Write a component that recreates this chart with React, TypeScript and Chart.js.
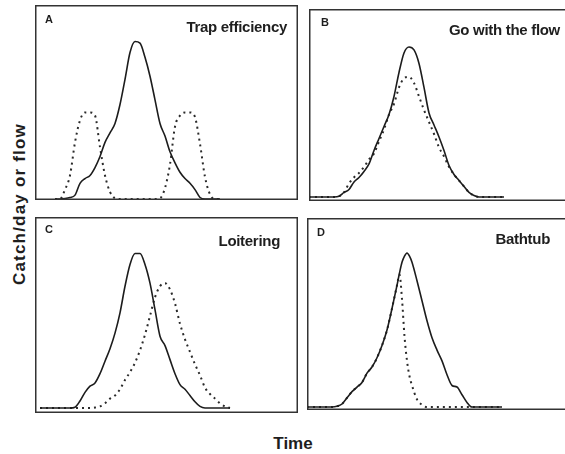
import React, { useEffect, useRef } from "react";
import { Chart, registerables } from "chart.js";

Chart.register(...registerables);

// ---- Data (time in arbitrary days, catch/flow scaled so the solid peak = 100) ----
const timeA = [4, 5, 6, 7, 8, 9, 10, 11, 12, 13, 14, 15, 16, 17, 18, 19, 20, 21, 22, 23, 24, 25, 26, 27, 28, 29, 30, 31, 32, 33, 34, 35, 36, 37];
const flowA = [0, 0, 0.3, 1, 2.5, 10, 13, 15, 20, 27, 36, 42, 48, 60, 76, 93, 100, 99, 90, 78, 63, 48, 40, 30, 23, 17, 13, 10, 6, 1, 0, 0, 0, 0];
const catchA = [0, 0, 6, 15, 36, 50, 55, 55, 53, 33, 15, 4.5, 0.5, 0, 0, 0, 0, 0, 0, 0, 0, 0.5, 7, 22, 46, 53, 55, 55, 52, 35, 14, 3, 0, 0];

const timeB = [0, 1, 2, 3, 4, 5, 6, 7, 8, 9, 10, 11, 12, 13, 14, 15, 16, 17, 18, 19, 20, 21, 22, 23, 24, 25, 26, 27, 28, 29, 30, 31, 32, 33, 34, 35, 36, 37, 38, 39];
const flowB = [0, 0, 0, 0, 0, 0, 0.5, 3, 5, 10, 13, 17, 22, 31, 39, 47, 55, 67, 83, 96, 100, 98, 89, 73, 56, 48, 40, 31, 21, 15, 11, 7, 3, 1, 0, 0, 0, 0, 0, 0];
const catchB = [0, 0, 0, 0, 0, 0, 0.5, 3, 9, 13, 16, 20, 25, 29, 37, 45, 55, 62, 73, 79, 80, 76, 67, 58, 50, 42, 33, 27, 20, 15, 11, 7, 3, 1, 0, 0, 0, 0, 0, 0];

const timeC = [1, 2, 3, 4, 5, 6, 7, 8, 9, 10, 11, 12, 13, 14, 15, 16, 17, 18, 19, 20, 21, 22, 23, 24, 25, 26, 27, 28, 29, 30, 31, 32, 33, 34, 35, 36, 37, 38, 39];
const flowC = [0, 0, 0, 0, 0, 0, 0, 0.5, 4.5, 10, 14, 16, 22, 30, 38, 48, 61, 78, 92, 99, 99, 92, 80, 63, 46, 40, 31, 22, 15, 12, 8, 4, 1, 0, 0, 0, 0, 0, 0];
const catchC = [0, 0, 0, 0, 0, 0, 0, 0, 0, 0, 0, 0.3, 1, 3, 6, 8, 12, 18, 23, 29, 37, 47, 59, 71, 78, 80, 76, 67, 54, 44, 36, 28, 21, 13, 9, 6, 3, 1, 0];

const timeD = [0, 1, 2, 3, 4, 5, 6, 7, 8, 9, 10, 11, 12, 13, 14, 15, 16, 17, 18, 18.5, 19, 19.5, 20, 20.5, 21, 22, 23, 24, 25, 26, 27, 28, 29, 30, 31, 32, 33, 34, 35, 36, 37, 38, 39];
const flowD = [0, 0, 0, 0, 0, 0, 0.5, 2, 6, 10, 13, 16, 22, 26, 32, 40, 50, 64, 79, 87, 94, 98, 100, 98, 94, 82, 69, 56, 45, 37, 30, 21, 14, 13, 8, 3, 0, 0, 0, 0, 0, 0, 0];
const catchD = [0, 0, 0, 0, 0, 0, 0.5, 2, 6, 10, 13, 16, 22, 26, 32, 40, 50, 64, 79, 86, 70, 46, 30, 20, 14, 5, 1.5, 0, 0, 0, 0, 0, 0, 0, 0, 0, 0, 0, 0, 0, 0, 0, 0];

const panelLetters = ["A", "B", "C", "D"];
const panelTitles = ["Trap efficiency", "Go with the flow", "Loitering", "Bathtub"];
const xLabel = "Time";
const yLabel = "Catch/day or flow";

type Panel = {
  time: number[];
  flow: number[];
  catchv: number[];
  box: { left: number; top: number; width: number; height: number };
  xMax: number;
  yMin: number;
  yMax: number;
  letterPos: { left: number; top: number };
  titlePos: { right: number; top: number };
};

const panels: Panel[] = [
  { time: timeA, flow: flowA, catchv: catchA, box: { left: 35, top: 5, width: 263, height: 195 }, xMax: 52.6, yMin: -0.6, yMax: 123.2, letterPos: { left: 45, top: 13.6 }, titlePos: { right: 278, top: 18.5 } },
  { time: timeB, flow: flowB, catchv: catchB, box: { left: 309, top: 9, width: 264, height: 192 }, xMax: 52.8, yMin: -2.7, yMax: 125.3, letterPos: { left: 321, top: 16.5 }, titlePos: { right: 5, top: 21.5 } },
  { time: timeC, flow: flowC, catchv: catchC, box: { left: 35, top: 217, width: 263, height: 196 }, xMax: 52.6, yMin: -3.2, yMax: 122.4, letterPos: { left: 45, top: 223.6 }, titlePos: { right: 285, top: 233 } },
  { time: timeD, flow: flowD, catchv: catchD, box: { left: 307, top: 218, width: 264, height: 192 }, xMax: 52.8, yMin: -1.9, yMax: 122.7, letterPos: { left: 317, top: 226.6 }, titlePos: { right: 15, top: 231 } },
];

const frame = {
  id: "frame",
  afterDraw(chart: any) {
    const { ctx, chartArea } = chart;
    ctx.save();
    ctx.strokeStyle = "#333";
    ctx.lineWidth = 1.5;
    ctx.strokeRect(chartArea.left + 0.75, chartArea.top + 0.75, chartArea.right - chartArea.left - 1.5, chartArea.bottom - chartArea.top - 1.5);
    ctx.restore();
  },
};

function PanelChart({ p }: { p: Panel }) {
  const ref = useRef<HTMLCanvasElement | null>(null);
  useEffect(() => {
    if (!ref.current) return;
    const chart = new Chart(ref.current, {
      type: "line",
      data: {
        datasets: [
          {
            data: p.time.map((t, i) => ({ x: t, y: p.flow[i] })),
            borderColor: "#1c1c1c",
            borderWidth: 1.6,
            pointRadius: 0,
            cubicInterpolationMode: "monotone",
            fill: false,
            order: 1,
          },
          {
            data: p.time.map((t, i) => ({ x: t, y: p.catchv[i] })),
            borderColor: "#2a2a2a",
            borderWidth: 2,
            borderDash: [2, 4],
            pointRadius: 0,
            cubicInterpolationMode: "monotone",
            fill: false,
            order: 2,
          },
        ],
      },
      options: {
        animation: false,
        responsive: true,
        maintainAspectRatio: false,
        layout: { padding: 0 },
        plugins: { legend: { display: false }, tooltip: { enabled: false } },
        events: [],
        scales: {
          x: { type: "linear", min: 0, max: p.xMax, display: false },
          y: { type: "linear", min: p.yMin, max: p.yMax, display: false },
        },
      },
      plugins: [frame],
    } as any);
    return () => chart.destroy();
  }, [p]);
  return (
    <div style={{ position: "absolute", left: p.box.left, top: p.box.top, width: p.box.width, height: p.box.height }}>
      <canvas ref={ref} />
    </div>
  );
}

const font = '"Liberation Sans", Arial, Helvetica, sans-serif';

export default function App() {
  return (
    <div style={{ position: "fixed", left: 0, top: 0, width: 565, height: 454, overflow: "hidden", background: "#fff", fontFamily: font, color: "#1e1e1e" }}>
      {panels.map((p, i) => (
        <React.Fragment key={i}>
          <PanelChart p={p} />
          <div style={{ position: "absolute", left: p.letterPos.left, top: p.letterPos.top, fontSize: 11, fontWeight: 700, lineHeight: 1 }}>{panelLetters[i]}</div>
          <div style={{ position: "absolute", right: p.titlePos.right, top: p.titlePos.top, fontSize: 15, fontWeight: 700, lineHeight: 1, whiteSpace: "nowrap", letterSpacing: -0.3 }}>{panelTitles[i]}</div>
        </React.Fragment>
      ))}
      <div style={{ position: "absolute", left: 19, top: 204, transform: "translate(-50%, -50%) rotate(-90deg)", fontSize: 17, fontWeight: 700, lineHeight: 1, whiteSpace: "nowrap", letterSpacing: 1.2 }}>{yLabel}</div>
      <div style={{ position: "absolute", left: 293, top: 435, transform: "translateX(-50%)", fontSize: 17, fontWeight: 700, lineHeight: 1, whiteSpace: "nowrap" }}>{xLabel}</div>
    </div>
  );
}
